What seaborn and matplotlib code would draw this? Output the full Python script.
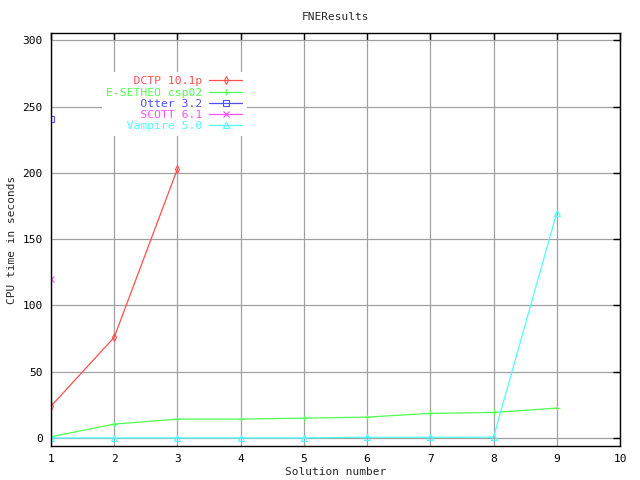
import matplotlib
matplotlib.use("Agg")
import matplotlib.pyplot as plt
import seaborn as sns

# CPU time (seconds) per solution number
dctp_x = [1, 2, 3]
dctp_cpu = [24, 76, 203]
esetheo_x = [1, 2, 3, 4, 5, 6, 7, 8, 9]
esetheo_cpu = [1, 10.5, 14.3, 14.3, 15, 15.8, 18.6, 19.3, 22.6]
otter_x = [1]
otter_cpu = [241]
scott_x = [1]
scott_cpu = [120]
vampire_x = [1, 2, 3, 4, 5, 6, 7, 8, 9]
vampire_cpu = [0.1, 0.1, 0.1, 0.1, 0.1, 0.6, 0.6, 0.7, 170]

provers = ["DCTP 10.1p", "E-SETHEO csp02", "Otter 3.2", "SCOTT 6.1", "Vampire 5.0"]
series = [
    (dctp_x, dctp_cpu),
    (esetheo_x, esetheo_cpu),
    (otter_x, otter_cpu),
    (scott_x, scott_cpu),
    (vampire_x, vampire_cpu),
]
colors = ["#ff4f4f", "#4fff4f", "#4f4fff", "#ff4fff", "#4fffff"]
markers = ["d", "+", "s", "x", "^"]

sns.set_style("white")
plt.rcParams["font.family"] = ["DejaVu Sans Mono"]

fig = plt.figure(figsize=(6.4, 4.8), dpi=100)
ax = fig.add_axes([51 / 640, 1 - 446 / 480, 569 / 640, 413 / 480])

width = max(len(p) for p in provers)
for name, (xs, ys), color, marker in zip(provers, series, colors, markers):
    sns.lineplot(x=xs, y=ys, color=color, marker=marker, mec=color, mfc="none",
                 ms=4, mew=0.8, lw=0.9, label=name.rjust(width), ax=ax)

ax.set_xlim(1, 10)
ax.set_ylim(-6, 305.5)
ax.set_xticks(range(1, 11))
ax.set_yticks(range(0, 301, 50))
ax.grid(True, color="#a0a0a0", lw=0.9)
ax.set_axisbelow(True)
for spine in ax.spines.values():
    spine.set_color("black")
    spine.set_linewidth(1)
ax.tick_params(direction="in", length=5, width=1, top=True, right=True,
               labelsize=8, colors="black", pad=6)

ax.set_title("FNEResults", fontsize=8, pad=9)
ax.set_xlabel("Solution number", fontsize=8, labelpad=2)
ax.set_ylabel("CPU time in seconds", fontsize=8, labelpad=4)

# gnuplot-style key: right-aligned labels (monospace padding), sample after text
leg = ax.legend(loc="upper left", bbox_to_anchor=(0.089, 0.906), markerfirst=False,
                frameon=True, facecolor="white", edgecolor="none", framealpha=1,
                fancybox=False, handlelength=2.9, handletextpad=0.6,
                labelspacing=0.11, borderpad=0.4, borderaxespad=0,
                prop={"family": "DejaVu Sans Mono", "size": 8.2})
for text, color in zip(leg.get_texts(), colors):
    text.set_color(color)

fig.savefig("out.png", dpi=100)
